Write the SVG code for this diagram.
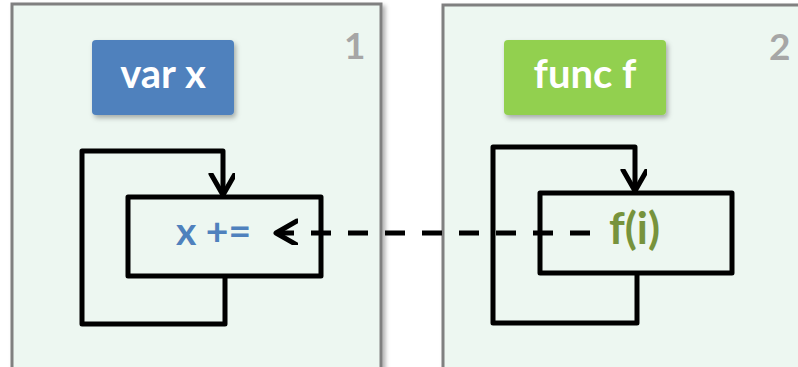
<svg xmlns="http://www.w3.org/2000/svg" width="798" height="367" viewBox="0 0 798 367">
<defs>
<filter id="sh" x="-10%" y="-10%" width="130%" height="140%"><feDropShadow dx="2" dy="3" stdDeviation="2.5" flood-color="#000" flood-opacity="0.3"/></filter>
<filter id="psh" x="-5%" y="-5%" width="115%" height="115%"><feDropShadow dx="3" dy="3" stdDeviation="2" flood-color="#000" flood-opacity="0.3"/></filter>
<marker id="chev" markerUnits="userSpaceOnUse" markerWidth="30" markerHeight="30" refX="22" refY="12" orient="auto" viewBox="0 0 30 30">
<path d="M1 0 L22 12 L1 24" fill="none" stroke="#000" stroke-width="5" stroke-linecap="round" stroke-linejoin="round"/>
</marker>
<style>
.panel{fill:#EDF7F1;stroke:#808080;stroke-width:3;filter:url(#psh)}
.num{font-family:Lato,"Open Sans",sans-serif;font-weight:bold;font-size:37px;fill:#A6A6A6}
.lbl{font-family:Lato,"Open Sans",sans-serif;font-weight:bold;font-size:40px;fill:#fff}
.code{font-family:Lato,"Open Sans",sans-serif;font-weight:bold;font-size:39px}
.loop{fill:none;stroke:#000;stroke-width:5;stroke-linejoin:round}
</style>
</defs>
<g id="panel1">
<rect class="panel" x="12" y="4" width="369" height="380"/>
<text class="num" x="344" y="59">1</text>
</g>
<g id="panel2">
<rect class="panel" x="443" y="5" width="380" height="380"/>
<text class="num" x="769" y="60">2</text>
</g>
<g id="varx">
<rect x="92" y="40" width="142" height="75" rx="4" fill="#4F81BD" filter="url(#sh)"/>
<text class="lbl" x="163" y="88" text-anchor="middle">var x</text>
</g>
<g id="funcf">
<rect x="504" y="40" width="162" height="75" rx="4" fill="#92D050" filter="url(#sh)"/>
<text class="lbl" x="585" y="88" text-anchor="middle">func f</text>
</g>
<g id="loop1">
<rect class="loop" x="128" y="197" width="193" height="79"/>
<text class="code" x="176" y="245" fill="#4F81BD">x +=</text>
</g>
<g id="loop2">
<rect class="loop" x="540" y="193" width="192" height="80"/>
<text class="code" x="609" y="244" fill="#77933C" style="font-size:44px">f(i)</text>
</g>
<g id="connectors">
<path class="loop" d="M225 276 V324 H82 V151 H223 V195" marker-end="url(#chev)"/>
<path class="loop" d="M637 273 V323 H493 V147 H635 V191" marker-end="url(#chev)"/>
<path d="M590 233 H276" fill="none" stroke="#000" stroke-width="5" stroke-dasharray="20 17" marker-end="url(#chev)"/>
</g>
</svg>
